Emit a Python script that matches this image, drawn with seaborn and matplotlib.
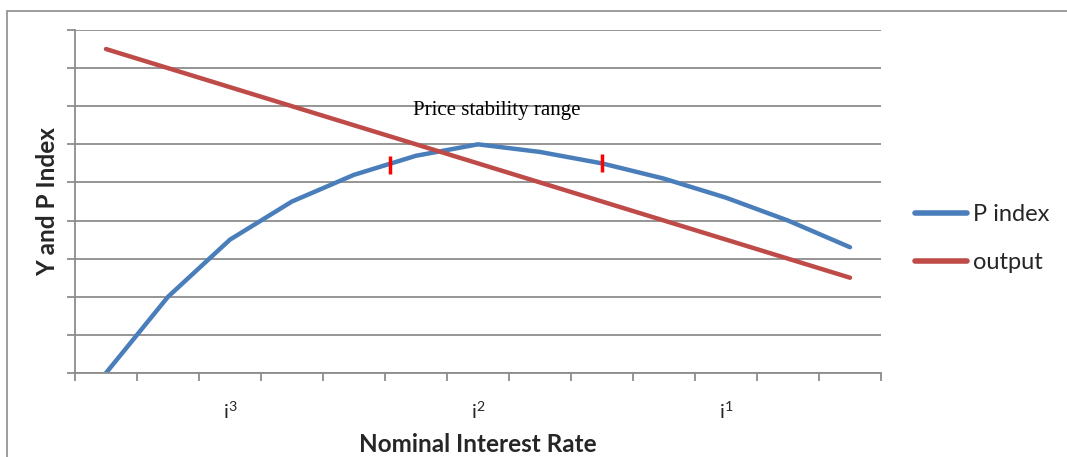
import matplotlib
matplotlib.use("Agg")
import matplotlib.pyplot as plt
import seaborn as sns
import pandas as pd
import numpy as np
from matplotlib.patches import Rectangle

# ---- data ----
categories = list(range(13))
tick_labels = ["", "", r"$\mathregular{i^{3}}$", "", "", "", r"$\mathregular{i^{2}}$",
               "", "", "", r"$\mathregular{i^{1}}$", "", ""]
p_index = [0.0, 2.0, 3.5, 4.5, 5.2, 5.7, 6.0, 5.8, 5.5, 5.1, 4.6, 4.0, 3.3]
output = [8.5, 8.0, 7.5, 7.0, 6.5, 6.0, 5.5, 5.0, 4.5, 4.0, 3.5, 3.0, 2.5]
series_names = ["P index", "output"]
series_colors = ["#4A7EBB", "#BE4B48"]
range_marks_x = [4.58, 8.0]
range_marks_y = [5.46, 5.51]
range_label = "Price stability range"

df = pd.DataFrame({
    "x": categories * 2,
    "y": p_index + output,
    "series": [series_names[0]] * len(categories) + [series_names[1]] * len(categories),
})

sns.set_theme(style="white")
plt.rcParams["font.family"] = ["Lato", "DejaVu Sans"]

fig = plt.figure(figsize=(10.67, 4.57), dpi=100)
ax = fig.add_axes([75/1067, 1-373/457, (881-75)/1067, (373-30)/457])

sns.lineplot(data=df, x="x", y="y", hue="series", palette=series_colors,
             linewidth=3.2, ax=ax, legend=True, solid_capstyle="round")

ax.set_xlim(-0.5, 12.5)
ax.set_ylim(0, 9)

grid_c = "#8C8C8C"
ax.set_yticks(np.arange(0, 10, 1))
ax.set_yticklabels([])
ax.yaxis.grid(True, color=grid_c, linewidth=1.3)
ax.set_axisbelow(True)
ax.set_xticks(np.arange(-0.5, 13, 1))
ax.set_xticklabels([])
ax.set_xticks(categories, minor=True)
ax.set_xticklabels(tick_labels, minor=True)
for t in ax.get_xticklabels(minor=True):
    t.set_fontsize(14.5)
ax.tick_params(axis="x", which="minor", length=0, pad=20)
ax.tick_params(axis="both", which="major", length=6, width=1.3, color=grid_c, direction="out")
ax.tick_params(axis="y", which="major", left=True)
ax.tick_params(axis="x", which="major", bottom=True)
for s in ["top", "right"]:
    ax.spines[s].set_visible(False)
for s in ["left", "bottom"]:
    ax.spines[s].set_color(grid_c)
    ax.spines[s].set_linewidth(1.3)

ax.set_xlabel("Nominal Interest Rate", fontsize=17.5, fontweight="bold", labelpad=8)
ax.set_ylabel("Y and P Index", fontsize=17.5, fontweight="bold", labelpad=2)

# price stability range marks
for mx, my in zip(range_marks_x, range_marks_y):
    ax.plot([mx, mx], [my - 0.24, my + 0.24], color="#FF0000", linewidth=2.5, solid_capstyle="butt")
ax.text(6.31, 6.9, range_label, fontsize=15, family="Liberation Serif",
        ha="center", va="center", color="black")

leg = ax.legend(loc="center left", bbox_to_anchor=(1.016, 0.392), frameon=False,
                fontsize=17, handlelength=2.2, handletextpad=0.25, labelspacing=1.15)
for h in leg.get_lines():
    h.set_linewidth(4)
    h.set_solid_capstyle("round")

# outer chart frame
fig.add_artist(Rectangle((7/1067, -0.1), 1.2, 1 - 11/457 + 0.1, transform=fig.transFigure,
                         fill=False, edgecolor="#8C8C8C", linewidth=1.2))

fig.savefig("out.png", dpi=100)
